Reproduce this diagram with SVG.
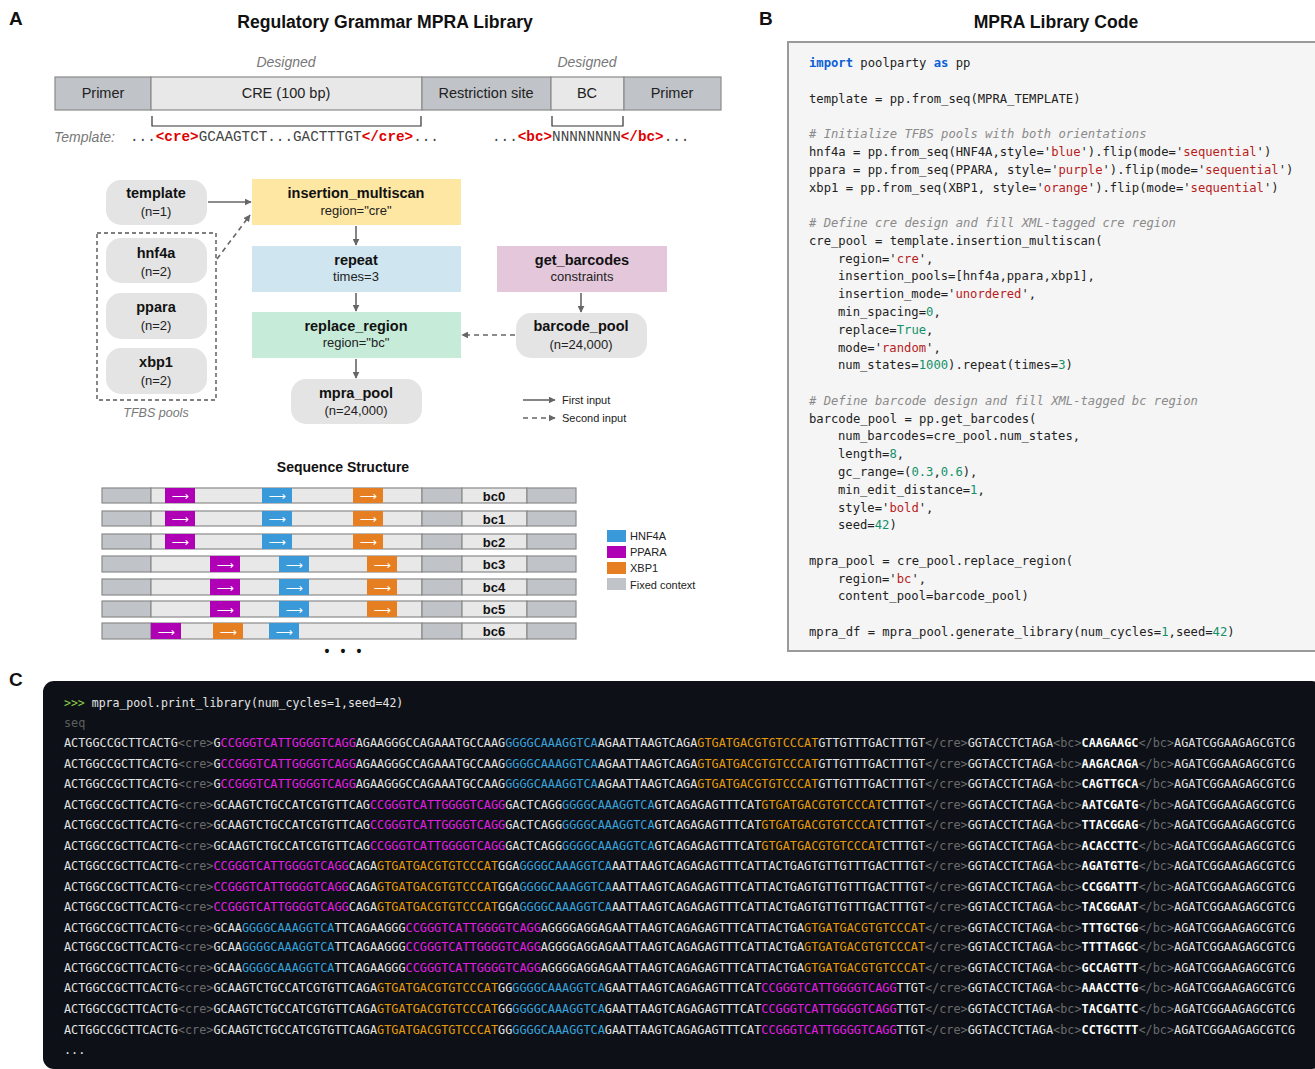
<svg xmlns="http://www.w3.org/2000/svg" width="1315" height="1069" viewBox="0 0 1315 1069">
<style>
.sans{font-family:"Liberation Sans",Arial,sans-serif}
.lbl{font-family:"Liberation Sans",Arial,sans-serif;font-size:19px;font-weight:bold;fill:#111}
.title{font-family:"Liberation Sans",Arial,sans-serif;font-size:17.6px;font-weight:bold;fill:#111;text-anchor:middle}
.bar{font-family:"Liberation Sans",Arial,sans-serif;font-size:14.5px;fill:#222;text-anchor:middle}
.ital{font-family:"Liberation Sans",Arial,sans-serif;font-style:italic;fill:#777}
.tmono{font-family:"Liberation Mono","Courier New",monospace;font-size:14.3px;fill:#444}
.tag{fill:#e00000;font-weight:bold}
.nb{font-family:"Liberation Sans",Arial,sans-serif;font-size:14.5px;font-weight:bold;fill:#111;text-anchor:middle}
.ns{font-family:"Liberation Sans",Arial,sans-serif;font-size:13px;fill:#222;text-anchor:middle}
.pill{fill:#e4e4e4}
.leg{font-family:"Liberation Sans",Arial,sans-serif;font-size:11px;fill:#222}
.edge{stroke:#666;stroke-width:1.6;fill:none}
.dash{stroke-dasharray:5,4}
.fixed{fill:#c0c4c8}
.var{fill:#e8e8e8}
.seg{stroke:#8a8a8a;stroke-width:1.2}
.arrowtxt{font-family:"DejaVu Sans",sans-serif;font-size:12px;fill:#fff;text-anchor:middle}
.bcl{font-family:"Liberation Sans",Arial,sans-serif;font-size:13px;font-weight:bold;fill:#111;text-anchor:middle}
.code{font-family:"DejaVu Sans Mono","Liberation Mono",monospace;font-size:12.2px;fill:#222}
.kw{fill:#0a5fd6;font-weight:bold}
.s{fill:#b71c1c}
.n{fill:#12906a}
.c{fill:#8a8a8a;font-style:italic}
.term{font-family:"DejaVu Sans Mono","Liberation Mono",monospace;font-size:11.8px;fill:#e4e4e4}
.t{fill:#6b6b6b}
.m{fill:#e31ee3}
.h{fill:#3aa3dc}
.o{fill:#e59b0c}
.bcb{fill:#ffffff;font-weight:bold}
</style>
<defs>
<marker id="ah" viewBox="0 0 10 10" refX="9" refY="5" markerWidth="7" markerHeight="7" markerUnits="userSpaceOnUse" orient="auto"><path d="M0,0 L10,5 L0,10 z" fill="#666"/></marker>
</defs>
<rect width="1315" height="1069" fill="#ffffff"/>

<!-- Panel labels -->
<text class="lbl" x="9" y="25">A</text>
<text class="lbl" x="759" y="25">B</text>
<text class="lbl" x="9" y="686">C</text>

<!-- Panel A header -->
<text class="title" x="385" y="28">Regulatory Grammar MPRA Library</text>
<text class="ital" x="286" y="67" font-size="14" text-anchor="middle">Designed</text>
<text class="ital" x="587" y="67" font-size="14" text-anchor="middle">Designed</text>
<g id="construct-bar">
<rect x="55" y="77" width="96" height="33" class="fixed seg"/>
<rect x="151" y="77" width="271" height="33" class="var seg"/>
<rect x="422" y="77" width="129" height="33" class="fixed seg"/>
<rect x="551" y="77" width="73" height="33" class="var seg"/>
<rect x="624" y="77" width="97" height="33" class="fixed seg"/>
<text class="bar" x="103" y="98">Primer</text>
<text class="bar" x="286" y="98">CRE (100 bp)</text>
<text class="bar" x="486" y="98">Restriction site</text>
<text class="bar" x="587" y="98">BC</text>
<text class="bar" x="672" y="98">Primer</text>
<path d="M152,116 V126 H421 V116" stroke="#333" stroke-width="1.2" fill="none"/>
<path d="M552,116 V126 H623 V116" stroke="#333" stroke-width="1.2" fill="none"/>
</g>
<text class="ital" x="54" y="142" font-size="14">Template:</text>
<text class="tmono" x="130" y="141">...<tspan class="tag">&lt;cre&gt;</tspan>GCAAGTCT...GACTTTGT<tspan class="tag">&lt;/cre&gt;</tspan>...</text>
<text class="tmono" x="492" y="141">...<tspan class="tag">&lt;bc&gt;</tspan>NNNNNNNN<tspan class="tag">&lt;/bc&gt;</tspan>...</text>

<!-- Flow nodes -->
<g id="node-template"><rect class="pill" x="106" y="180" width="101" height="45" rx="15"/><text class="nb" x="156" y="198">template</text><text class="ns" x="156" y="216">(n=1)</text></g>
<g id="tfbs-group"><rect x="97" y="233" width="119" height="167" fill="none" stroke="#555" stroke-width="1.4" stroke-dasharray="4,3"/><text class="ital" x="156" y="417" font-size="12.5" text-anchor="middle">TFBS pools</text></g>
<g id="node-hnf4a"><rect class="pill" x="106" y="238" width="101" height="45" rx="15"/><text class="nb" x="156" y="258">hnf4a</text><text class="ns" x="156" y="276">(n=2)</text></g>
<g id="node-ppara"><rect class="pill" x="106" y="293" width="101" height="46" rx="15"/><text class="nb" x="156" y="312">ppara</text><text class="ns" x="156" y="330">(n=2)</text></g>
<g id="node-xbp1"><rect class="pill" x="106" y="348" width="101" height="46" rx="15"/><text class="nb" x="156" y="367">xbp1</text><text class="ns" x="156" y="385">(n=2)</text></g>
<g id="node-insertion"><rect x="252" y="179" width="209" height="46" fill="#fde7a3"/><text class="nb" x="356" y="198">insertion_multiscan</text><text class="ns" x="356" y="215">region="cre"</text></g>
<g id="node-repeat"><rect x="252" y="246" width="209" height="46" fill="#cfe5ef"/><text class="nb" x="356" y="265">repeat</text><text class="ns" x="356" y="281">times=3</text></g>
<g id="node-replace"><rect x="252" y="312" width="209" height="46" fill="#c6ecd9"/><text class="nb" x="356" y="331">replace_region</text><text class="ns" x="356" y="347">region="bc"</text></g>
<g id="node-mpra"><rect class="pill" x="291" y="379" width="131" height="45" rx="15"/><text class="nb" x="356" y="398">mpra_pool</text><text class="ns" x="356" y="415">(n=24,000)</text></g>
<g id="node-getbarcodes"><rect x="497" y="246" width="170" height="46" fill="#e4c7db"/><text class="nb" x="582" y="265">get_barcodes</text><text class="ns" x="582" y="281">constraints</text></g>
<g id="node-barcodepool"><rect class="pill" x="516" y="313" width="131" height="45" rx="15"/><text class="nb" x="581" y="331">barcode_pool</text><text class="ns" x="581" y="349">(n=24,000)</text></g>

<g id="connectors">
<line class="edge" x1="208" y1="202" x2="251" y2="202" marker-end="url(#ah)"/>
<line class="edge dash" x1="217" y1="259" x2="250" y2="215" marker-end="url(#ah)"/>
<line class="edge" x1="356" y1="226" x2="356" y2="245" marker-end="url(#ah)"/>
<line class="edge" x1="356" y1="293" x2="356" y2="311" marker-end="url(#ah)"/>
<line class="edge" x1="356" y1="359" x2="356" y2="378" marker-end="url(#ah)"/>
<line class="edge" x1="581" y1="293" x2="581" y2="312" marker-end="url(#ah)"/>
<line class="edge dash" x1="515" y1="335" x2="462" y2="335" marker-end="url(#ah)"/>
<line class="edge" x1="523" y1="400" x2="555" y2="400" marker-end="url(#ah)"/>
<line class="edge dash" x1="523" y1="418" x2="555" y2="418" marker-end="url(#ah)"/>
</g>
<text class="leg" x="562" y="404">First input</text>
<text class="leg" x="562" y="422">Second input</text>

<!-- Sequence Structure -->
<text class="title" x="343" y="472" style="font-size:14px">Sequence Structure</text>
<g id="seqrows">
<g transform="translate(0,488)">
<rect x="102" y="0" width="49" height="15" class="fixed seg"/><rect x="151" y="0" width="271" height="15" class="var seg"/><rect x="422" y="0" width="40" height="15" class="fixed seg"/><rect x="462" y="0" width="65" height="15" class="var seg"/><rect x="527" y="0" width="49" height="15" class="fixed seg"/>
<rect x="165" y="0" width="30" height="15" fill="#b000b5"/><rect x="262" y="0" width="30" height="15" fill="#3a9ad9"/><rect x="353" y="0" width="30" height="15" fill="#e67e22"/>
<text class="arrowtxt" x="180" y="12">⟶</text><text class="arrowtxt" x="277" y="12">⟶</text><text class="arrowtxt" x="368" y="12">⟶</text>
<text class="bcl" x="494" y="12.5">bc0</text></g>
<g transform="translate(0,511)">
<rect x="102" y="0" width="49" height="15" class="fixed seg"/><rect x="151" y="0" width="271" height="15" class="var seg"/><rect x="422" y="0" width="40" height="15" class="fixed seg"/><rect x="462" y="0" width="65" height="15" class="var seg"/><rect x="527" y="0" width="49" height="15" class="fixed seg"/>
<rect x="165" y="0" width="30" height="15" fill="#b000b5"/><rect x="262" y="0" width="30" height="15" fill="#3a9ad9"/><rect x="353" y="0" width="30" height="15" fill="#e67e22"/>
<text class="arrowtxt" x="180" y="12">⟶</text><text class="arrowtxt" x="277" y="12">⟶</text><text class="arrowtxt" x="368" y="12">⟶</text>
<text class="bcl" x="494" y="12.5">bc1</text></g>
<g transform="translate(0,534)">
<rect x="102" y="0" width="49" height="15" class="fixed seg"/><rect x="151" y="0" width="271" height="15" class="var seg"/><rect x="422" y="0" width="40" height="15" class="fixed seg"/><rect x="462" y="0" width="65" height="15" class="var seg"/><rect x="527" y="0" width="49" height="15" class="fixed seg"/>
<rect x="165" y="0" width="30" height="15" fill="#b000b5"/><rect x="262" y="0" width="30" height="15" fill="#3a9ad9"/><rect x="353" y="0" width="30" height="15" fill="#e67e22"/>
<text class="arrowtxt" x="180" y="12">⟶</text><text class="arrowtxt" x="277" y="12">⟶</text><text class="arrowtxt" x="368" y="12">⟶</text>
<text class="bcl" x="494" y="12.5">bc2</text></g>
<g transform="translate(0,556)">
<rect x="102" y="0" width="49" height="16" class="fixed seg"/><rect x="151" y="0" width="271" height="16" class="var seg"/><rect x="422" y="0" width="40" height="16" class="fixed seg"/><rect x="462" y="0" width="65" height="16" class="var seg"/><rect x="527" y="0" width="49" height="16" class="fixed seg"/>
<rect x="210" y="0" width="30" height="16" fill="#b000b5"/><rect x="279" y="0" width="30" height="16" fill="#3a9ad9"/><rect x="367" y="0" width="30" height="16" fill="#e67e22"/>
<text class="arrowtxt" x="225" y="12.5">⟶</text><text class="arrowtxt" x="294" y="12.5">⟶</text><text class="arrowtxt" x="382" y="12.5">⟶</text>
<text class="bcl" x="494" y="13">bc3</text></g>
<g transform="translate(0,579)">
<rect x="102" y="0" width="49" height="16" class="fixed seg"/><rect x="151" y="0" width="271" height="16" class="var seg"/><rect x="422" y="0" width="40" height="16" class="fixed seg"/><rect x="462" y="0" width="65" height="16" class="var seg"/><rect x="527" y="0" width="49" height="16" class="fixed seg"/>
<rect x="210" y="0" width="30" height="16" fill="#b000b5"/><rect x="279" y="0" width="30" height="16" fill="#3a9ad9"/><rect x="367" y="0" width="30" height="16" fill="#e67e22"/>
<text class="arrowtxt" x="225" y="12.5">⟶</text><text class="arrowtxt" x="294" y="12.5">⟶</text><text class="arrowtxt" x="382" y="12.5">⟶</text>
<text class="bcl" x="494" y="13">bc4</text></g>
<g transform="translate(0,601)">
<rect x="102" y="0" width="49" height="16" class="fixed seg"/><rect x="151" y="0" width="271" height="16" class="var seg"/><rect x="422" y="0" width="40" height="16" class="fixed seg"/><rect x="462" y="0" width="65" height="16" class="var seg"/><rect x="527" y="0" width="49" height="16" class="fixed seg"/>
<rect x="210" y="0" width="30" height="16" fill="#b000b5"/><rect x="279" y="0" width="30" height="16" fill="#3a9ad9"/><rect x="367" y="0" width="30" height="16" fill="#e67e22"/>
<text class="arrowtxt" x="225" y="12.5">⟶</text><text class="arrowtxt" x="294" y="12.5">⟶</text><text class="arrowtxt" x="382" y="12.5">⟶</text>
<text class="bcl" x="494" y="13">bc5</text></g>
<g transform="translate(0,623)">
<rect x="102" y="0" width="49" height="16" class="fixed seg"/><rect x="151" y="0" width="271" height="16" class="var seg"/><rect x="422" y="0" width="40" height="16" class="fixed seg"/><rect x="462" y="0" width="65" height="16" class="var seg"/><rect x="527" y="0" width="49" height="16" class="fixed seg"/>
<rect x="151" y="0" width="30" height="16" fill="#b000b5"/><rect x="213" y="0" width="30" height="16" fill="#e67e22"/><rect x="269" y="0" width="30" height="16" fill="#3a9ad9"/>
<text class="arrowtxt" x="166" y="12.5">⟶</text><text class="arrowtxt" x="228" y="12.5">⟶</text><text class="arrowtxt" x="284" y="12.5">⟶</text>
<text class="bcl" x="494" y="13">bc6</text></g>
</g>
<text class="sans" x="327 343 359" y="656" font-size="14" font-weight="bold" text-anchor="middle" fill="#111">•••</text>
<g id="legend">
<rect x="607" y="530" width="19" height="12" fill="#3a9ad9"/><text class="leg" x="630" y="540">HNF4A</text>
<rect x="607" y="546" width="19" height="12" fill="#b000b5"/><text class="leg" x="630" y="556">PPARA</text>
<rect x="607" y="562" width="19" height="12" fill="#e67e22"/><text class="leg" x="630" y="572">XBP1</text>
<rect x="607" y="578" width="19" height="12" fill="#c0c4c8"/><text class="leg" x="630" y="589">Fixed context</text>
</g>

<!-- Panel B -->
<text class="title" x="1056" y="28">MPRA Library Code</text>
<rect x="788" y="42" width="540" height="609" fill="#f5f5f5" stroke="#9a9a9a" stroke-width="2"/>
<g class="code">
<text x="809" y="67"><tspan class="kw">import</tspan> poolparty <tspan class="kw">as</tspan> pp</text>
<text x="809" y="102.6">template = pp.from_seq(MPRA_TEMPLATE)</text>
<text x="809" y="138.1" class="c"># Initialize TFBS pools with both orientations</text>
<text x="809" y="155.9">hnf4a = pp.from_seq(HNF4A,style='<tspan class="s">blue</tspan>').flip(mode='<tspan class="s">sequential</tspan>')</text>
<text x="809" y="173.7">ppara = pp.from_seq(PPARA, style='<tspan class="s">purple</tspan>').flip(mode='<tspan class="s">sequential</tspan>')</text>
<text x="809" y="191.5">xbp1 = pp.from_seq(XBP1, style='<tspan class="s">orange</tspan>').flip(mode='<tspan class="s">sequential</tspan>')</text>
<text x="809" y="227" class="c"># Define cre design and fill XML-tagged cre region</text>
<text x="809" y="244.8">cre_pool = template.insertion_multiscan(</text>
<text x="838" y="262.6">region='<tspan class="s">cre</tspan>',</text>
<text x="838" y="280.4">insertion_pools=[hnf4a,ppara,xbp1],</text>
<text x="838" y="298.1">insertion_mode='<tspan class="s">unordered</tspan>',</text>
<text x="838" y="315.9">min_spacing=<tspan class="n">0</tspan>,</text>
<text x="838" y="333.7">replace=<tspan class="n">True</tspan>,</text>
<text x="838" y="351.5">mode='<tspan class="s">random</tspan>',</text>
<text x="838" y="369.3">num_states=<tspan class="n">1000</tspan>).repeat(times=<tspan class="n">3</tspan>)</text>
<text x="809" y="404.8" class="c"># Define barcode design and fill XML-tagged bc region</text>
<text x="809" y="422.6">barcode_pool = pp.get_barcodes(</text>
<text x="838" y="440.4">num_barcodes=cre_pool.num_states,</text>
<text x="838" y="458.2">length=<tspan class="n">8</tspan>,</text>
<text x="838" y="475.9">gc_range=(<tspan class="n">0.3</tspan>,<tspan class="n">0.6</tspan>),</text>
<text x="838" y="493.7">min_edit_distance=<tspan class="n">1</tspan>,</text>
<text x="838" y="511.5">style='<tspan class="s">bold</tspan>',</text>
<text x="838" y="529.3">seed=<tspan class="n">42</tspan>)</text>
<text x="809" y="564.8">mpra_pool = cre_pool.replace_region(</text>
<text x="838" y="582.6">region='<tspan class="s">bc</tspan>',</text>
<text x="838" y="600.4">content_pool=barcode_pool)</text>
<text x="809" y="636">mpra_df = mpra_pool.generate_library(num_cycles=<tspan class="n">1</tspan>,seed=<tspan class="n">42</tspan>)</text>
</g>

<!-- Panel C -->
<rect x="43" y="681" width="1280" height="388" rx="11" fill="#0d1117"/>
<g class="term">
<text x="64" y="707" font-size="11.5"><tspan fill="#8cc84b">&gt;&gt;&gt;</tspan> mpra_pool.print_library(num_cycles=1,seed=42)</text>
<text x="64" y="727" fill="#5e5e5e">seq</text>
<text x="64" y="747" textLength="1231" lengthAdjust="spacing">ACTGGCCGCTTCACTG<tspan class="t">&lt;cre&gt;</tspan>G<tspan class="m">CCGGGTCATTGGGGTCAGG</tspan>AGAAGGGCCAGAAATGCCAAG<tspan class="h">GGGGCAAAGGTCA</tspan>AGAATTAAGTCAGA<tspan class="o">GTGATGACGTGTCCCAT</tspan>GTTGTTTGACTTTGT<tspan class="t">&lt;/cre&gt;</tspan>GGTACCTCTAGA<tspan class="t">&lt;bc&gt;</tspan><tspan class="bcb">CAAGAAGC</tspan><tspan class="t">&lt;/bc&gt;</tspan>AGATCGGAAGAGCGTCG</text>
<text x="64" y="767.5" textLength="1231" lengthAdjust="spacing">ACTGGCCGCTTCACTG<tspan class="t">&lt;cre&gt;</tspan>G<tspan class="m">CCGGGTCATTGGGGTCAGG</tspan>AGAAGGGCCAGAAATGCCAAG<tspan class="h">GGGGCAAAGGTCA</tspan>AGAATTAAGTCAGA<tspan class="o">GTGATGACGTGTCCCAT</tspan>GTTGTTTGACTTTGT<tspan class="t">&lt;/cre&gt;</tspan>GGTACCTCTAGA<tspan class="t">&lt;bc&gt;</tspan><tspan class="bcb">AAGACAGA</tspan><tspan class="t">&lt;/bc&gt;</tspan>AGATCGGAAGAGCGTCG</text>
<text x="64" y="788" textLength="1231" lengthAdjust="spacing">ACTGGCCGCTTCACTG<tspan class="t">&lt;cre&gt;</tspan>G<tspan class="m">CCGGGTCATTGGGGTCAGG</tspan>AGAAGGGCCAGAAATGCCAAG<tspan class="h">GGGGCAAAGGTCA</tspan>AGAATTAAGTCAGA<tspan class="o">GTGATGACGTGTCCCAT</tspan>GTTGTTTGACTTTGT<tspan class="t">&lt;/cre&gt;</tspan>GGTACCTCTAGA<tspan class="t">&lt;bc&gt;</tspan><tspan class="bcb">CAGTTGCA</tspan><tspan class="t">&lt;/bc&gt;</tspan>AGATCGGAAGAGCGTCG</text>
<text x="64" y="808.5" textLength="1231" lengthAdjust="spacing">ACTGGCCGCTTCACTG<tspan class="t">&lt;cre&gt;</tspan>GCAAGTCTGCCATCGTGTTCAG<tspan class="m">CCGGGTCATTGGGGTCAGG</tspan>GACTCAGG<tspan class="h">GGGGCAAAGGTCA</tspan>GTCAGAGAGTTTCAT<tspan class="o">GTGATGACGTGTCCCAT</tspan>CTTTGT<tspan class="t">&lt;/cre&gt;</tspan>GGTACCTCTAGA<tspan class="t">&lt;bc&gt;</tspan><tspan class="bcb">AATCGATG</tspan><tspan class="t">&lt;/bc&gt;</tspan>AGATCGGAAGAGCGTCG</text>
<text x="64" y="829" textLength="1231" lengthAdjust="spacing">ACTGGCCGCTTCACTG<tspan class="t">&lt;cre&gt;</tspan>GCAAGTCTGCCATCGTGTTCAG<tspan class="m">CCGGGTCATTGGGGTCAGG</tspan>GACTCAGG<tspan class="h">GGGGCAAAGGTCA</tspan>GTCAGAGAGTTTCAT<tspan class="o">GTGATGACGTGTCCCAT</tspan>CTTTGT<tspan class="t">&lt;/cre&gt;</tspan>GGTACCTCTAGA<tspan class="t">&lt;bc&gt;</tspan><tspan class="bcb">TTACGGAG</tspan><tspan class="t">&lt;/bc&gt;</tspan>AGATCGGAAGAGCGTCG</text>
<text x="64" y="849.5" textLength="1231" lengthAdjust="spacing">ACTGGCCGCTTCACTG<tspan class="t">&lt;cre&gt;</tspan>GCAAGTCTGCCATCGTGTTCAG<tspan class="m">CCGGGTCATTGGGGTCAGG</tspan>GACTCAGG<tspan class="h">GGGGCAAAGGTCA</tspan>GTCAGAGAGTTTCAT<tspan class="o">GTGATGACGTGTCCCAT</tspan>CTTTGT<tspan class="t">&lt;/cre&gt;</tspan>GGTACCTCTAGA<tspan class="t">&lt;bc&gt;</tspan><tspan class="bcb">ACACCTTC</tspan><tspan class="t">&lt;/bc&gt;</tspan>AGATCGGAAGAGCGTCG</text>
<text x="64" y="870" textLength="1231" lengthAdjust="spacing">ACTGGCCGCTTCACTG<tspan class="t">&lt;cre&gt;</tspan><tspan class="m">CCGGGTCATTGGGGTCAGG</tspan>CAGA<tspan class="o">GTGATGACGTGTCCCAT</tspan>GGA<tspan class="h">GGGGCAAAGGTCA</tspan>AATTAAGTCAGAGAGTTTCATTACTGAGTGTTGTTTGACTTTGT<tspan class="t">&lt;/cre&gt;</tspan>GGTACCTCTAGA<tspan class="t">&lt;bc&gt;</tspan><tspan class="bcb">AGATGTTG</tspan><tspan class="t">&lt;/bc&gt;</tspan>AGATCGGAAGAGCGTCG</text>
<text x="64" y="890.5" textLength="1231" lengthAdjust="spacing">ACTGGCCGCTTCACTG<tspan class="t">&lt;cre&gt;</tspan><tspan class="m">CCGGGTCATTGGGGTCAGG</tspan>CAGA<tspan class="o">GTGATGACGTGTCCCAT</tspan>GGA<tspan class="h">GGGGCAAAGGTCA</tspan>AATTAAGTCAGAGAGTTTCATTACTGAGTGTTGTTTGACTTTGT<tspan class="t">&lt;/cre&gt;</tspan>GGTACCTCTAGA<tspan class="t">&lt;bc&gt;</tspan><tspan class="bcb">CCGGATTT</tspan><tspan class="t">&lt;/bc&gt;</tspan>AGATCGGAAGAGCGTCG</text>
<text x="64" y="911" textLength="1231" lengthAdjust="spacing">ACTGGCCGCTTCACTG<tspan class="t">&lt;cre&gt;</tspan><tspan class="m">CCGGGTCATTGGGGTCAGG</tspan>CAGA<tspan class="o">GTGATGACGTGTCCCAT</tspan>GGA<tspan class="h">GGGGCAAAGGTCA</tspan>AATTAAGTCAGAGAGTTTCATTACTGAGTGTTGTTTGACTTTGT<tspan class="t">&lt;/cre&gt;</tspan>GGTACCTCTAGA<tspan class="t">&lt;bc&gt;</tspan><tspan class="bcb">TACGGAAT</tspan><tspan class="t">&lt;/bc&gt;</tspan>AGATCGGAAGAGCGTCG</text>
<text x="64" y="931.5" textLength="1231" lengthAdjust="spacing">ACTGGCCGCTTCACTG<tspan class="t">&lt;cre&gt;</tspan>GCAA<tspan class="h">GGGGCAAAGGTCA</tspan>TTCAGAAGGG<tspan class="m">CCGGGTCATTGGGGTCAGG</tspan>AGGGGAGGAGAATTAAGTCAGAGAGTTTCATTACTGA<tspan class="o">GTGATGACGTGTCCCAT</tspan><tspan class="t">&lt;/cre&gt;</tspan>GGTACCTCTAGA<tspan class="t">&lt;bc&gt;</tspan><tspan class="bcb">TTTGCTGG</tspan><tspan class="t">&lt;/bc&gt;</tspan>AGATCGGAAGAGCGTCG</text>
<text x="64" y="951" textLength="1231" lengthAdjust="spacing">ACTGGCCGCTTCACTG<tspan class="t">&lt;cre&gt;</tspan>GCAA<tspan class="h">GGGGCAAAGGTCA</tspan>TTCAGAAGGG<tspan class="m">CCGGGTCATTGGGGTCAGG</tspan>AGGGGAGGAGAATTAAGTCAGAGAGTTTCATTACTGA<tspan class="o">GTGATGACGTGTCCCAT</tspan><tspan class="t">&lt;/cre&gt;</tspan>GGTACCTCTAGA<tspan class="t">&lt;bc&gt;</tspan><tspan class="bcb">TTTTAGGC</tspan><tspan class="t">&lt;/bc&gt;</tspan>AGATCGGAAGAGCGTCG</text>
<text x="64" y="972" textLength="1231" lengthAdjust="spacing">ACTGGCCGCTTCACTG<tspan class="t">&lt;cre&gt;</tspan>GCAA<tspan class="h">GGGGCAAAGGTCA</tspan>TTCAGAAGGG<tspan class="m">CCGGGTCATTGGGGTCAGG</tspan>AGGGGAGGAGAATTAAGTCAGAGAGTTTCATTACTGA<tspan class="o">GTGATGACGTGTCCCAT</tspan><tspan class="t">&lt;/cre&gt;</tspan>GGTACCTCTAGA<tspan class="t">&lt;bc&gt;</tspan><tspan class="bcb">GCCAGTTT</tspan><tspan class="t">&lt;/bc&gt;</tspan>AGATCGGAAGAGCGTCG</text>
<text x="64" y="992" textLength="1231" lengthAdjust="spacing">ACTGGCCGCTTCACTG<tspan class="t">&lt;cre&gt;</tspan>GCAAGTCTGCCATCGTGTTCAGA<tspan class="o">GTGATGACGTGTCCCAT</tspan>GG<tspan class="h">GGGGCAAAGGTCA</tspan>GAATTAAGTCAGAGAGTTTCAT<tspan class="m">CCGGGTCATTGGGGTCAGG</tspan>TTGT<tspan class="t">&lt;/cre&gt;</tspan>GGTACCTCTAGA<tspan class="t">&lt;bc&gt;</tspan><tspan class="bcb">AAACCTTG</tspan><tspan class="t">&lt;/bc&gt;</tspan>AGATCGGAAGAGCGTCG</text>
<text x="64" y="1013" textLength="1231" lengthAdjust="spacing">ACTGGCCGCTTCACTG<tspan class="t">&lt;cre&gt;</tspan>GCAAGTCTGCCATCGTGTTCAGA<tspan class="o">GTGATGACGTGTCCCAT</tspan>GG<tspan class="h">GGGGCAAAGGTCA</tspan>GAATTAAGTCAGAGAGTTTCAT<tspan class="m">CCGGGTCATTGGGGTCAGG</tspan>TTGT<tspan class="t">&lt;/cre&gt;</tspan>GGTACCTCTAGA<tspan class="t">&lt;bc&gt;</tspan><tspan class="bcb">TACGATTC</tspan><tspan class="t">&lt;/bc&gt;</tspan>AGATCGGAAGAGCGTCG</text>
<text x="64" y="1034" textLength="1231" lengthAdjust="spacing">ACTGGCCGCTTCACTG<tspan class="t">&lt;cre&gt;</tspan>GCAAGTCTGCCATCGTGTTCAGA<tspan class="o">GTGATGACGTGTCCCAT</tspan>GG<tspan class="h">GGGGCAAAGGTCA</tspan>GAATTAAGTCAGAGAGTTTCAT<tspan class="m">CCGGGTCATTGGGGTCAGG</tspan>TTGT<tspan class="t">&lt;/cre&gt;</tspan>GGTACCTCTAGA<tspan class="t">&lt;bc&gt;</tspan><tspan class="bcb">CCTGCTTT</tspan><tspan class="t">&lt;/bc&gt;</tspan>AGATCGGAAGAGCGTCG</text>
<text x="64" y="1054">...</text>
</g>
</svg>
